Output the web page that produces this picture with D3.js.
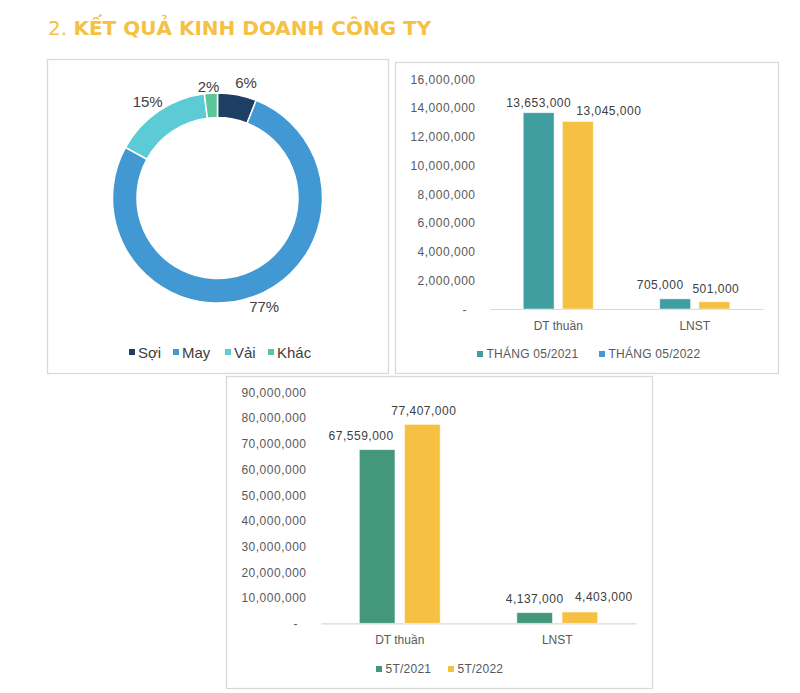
<!DOCTYPE html>
<html>
<head>
<meta charset="utf-8">
<script src="https://cdn.jsdelivr.net/npm/d3@7/dist/d3.min.js"></script>
<style>
  html, body { margin: 0; padding: 0; background: #ffffff; }
  svg { display: block; }
</style>
</head>
<body>
<svg id="chart" width="800" height="693"></svg>
<script>
// ---------- DATA ----------
const titleNumber = "2. ";
const titleText = "KẾT QUẢ KINH DOANH CÔNG TY";

const pieCategories = ["Sợi", "May", "Vải", "Khác"];
const pieValues = [6, 77, 15, 2];

const bar1Categories = ["DT thuần", "LNST"];
const bar1Series = ["THÁNG 05/2021", "THÁNG 05/2022"];
const bar1Values2021 = [13653000, 705000];
const bar1Values2022 = [13045000, 501000];
const bar1Ticks = [0, 2000000, 4000000, 6000000, 8000000, 10000000, 12000000, 14000000, 16000000];

const bar2Categories = ["DT thuần", "LNST"];
const bar2Series = ["5T/2021", "5T/2022"];
const bar2Values2021 = [67559000, 4137000];
const bar2Values2022 = [77407000, 4403000];
const bar2Ticks = [0, 10000000, 20000000, 30000000, 40000000, 50000000, 60000000, 70000000, 80000000, 90000000];

// ---------- STYLE ----------
const pieColors = ["#1F3E64", "#4198D2", "#5CCBD5", "#59C797"];
const bar1Colors = ["#409DA0", "#F6C143"];
const bar1LegendColors = ["#409DA0", "#4198D2"];
const bar2Colors = ["#43977A", "#F6C143"];
const border = "#D9D9D9";
const textColor = "#404040";
const tickColor = "#595959";
const numFont = "'Liberation Sans', Arial, sans-serif";

const svg = d3.select("#chart");
const fmt = d3.format(",");

// ---------- TITLE ----------
const title = svg.append("text")
  .attr("x", 48).attr("y", 35)
  .attr("font-family", "'DejaVu Sans', Verdana, sans-serif")
  .attr("font-size", 20)
  .attr("fill", "#F5C142");
title.append("tspan").attr("font-weight", "normal").text(titleNumber);
title.append("tspan").attr("font-weight", "bold").text(titleText);

// ---------- PANELS ----------
const panels = [
  { x: 47, y: 59, w: 341, h: 314 },
  { x: 395, y: 62, w: 383, h: 311 },
  { x: 226, y: 376, w: 426, h: 312 }
];
svg.selectAll("rect.panel").data(panels).enter().append("rect")
  .attr("class", "panel")
  .attr("x", d => d.x + 0.5).attr("y", d => d.y + 0.5)
  .attr("width", d => d.w).attr("height", d => d.h)
  .attr("fill", "#fff").attr("stroke", border).attr("stroke-width", 1.3);

// ---------- DONUT ----------
(function () {
  const cx = 217.5, cy = 198, R = 105, r = 80.5;
  const g = svg.append("g").attr("transform", `translate(${cx},${cy})`);
  const pie = d3.pie().sort(null).value(d => d)(pieValues);
  const arc = d3.arc().innerRadius(r).outerRadius(R);
  g.selectAll("path").data(pie).enter().append("path")
    .attr("d", arc)
    .attr("fill", (d, i) => pieColors[i])
    .attr("stroke", "#fff").attr("stroke-width", 1.5);

  const nudges = [[5, 0], [4, -1], [1, 0], [-1, 5]];
  g.selectAll("text.lbl").data(pie).enter().append("text")
    .attr("class", "lbl")
    .attr("font-family", numFont).attr("font-size", 15)
    .attr("fill", textColor).attr("text-anchor", "middle")
    .attr("x", (d, i) => {
      const a = (d.startAngle + d.endAngle) / 2;
      return Math.sin(a) * (R + 6) + Math.sin(a) * 15 + nudges[i][0];
    })
    .attr("y", (d, i) => {
      const a = (d.startAngle + d.endAngle) / 2;
      return -Math.cos(a) * (R + 6) - Math.cos(a) * 6 + 5.3 + nudges[i][1];
    })
    .text(d => d.data + "%");

  // legend
  const legX = [129, 173, 225, 268];
  const lg = svg.append("g");
  pieCategories.forEach((c, i) => {
    lg.append("rect").attr("x", legX[i]).attr("y", 349).attr("width", 6).attr("height", 6)
      .attr("fill", pieColors[i]);
    lg.append("text").attr("x", legX[i] + 9).attr("y", 357.5)
      .attr("font-family", numFont).attr("font-size", 15).attr("fill", textColor)
      .text(c);
  });
})();

// ---------- BAR CHART HELPER ----------
function barChart(opt) {
  const g = svg.append("g");
  const x = d3.scaleBand().domain(opt.categories).range([opt.x0, opt.x1]);
  const y = d3.scaleLinear().domain([0, opt.ticks[opt.ticks.length - 1]]).range([opt.yBase, opt.yTop]);
  const bw = x.bandwidth() * 0.226, gap = x.bandwidth() * 0.061;

  // y tick labels (no axis line, no gridlines)
  const yAxis = d3.axisLeft(y).tickValues(opt.ticks).tickSize(0).tickPadding(0)
    .tickFormat(d => d === 0 ? "-" : fmt(d));
  const ya = g.append("g").attr("transform", `translate(${opt.tickX},0)`).call(yAxis);
  ya.select(".domain").remove();
  ya.selectAll("text")
    .attr("font-family", numFont).attr("font-size", 12)
    .attr("letter-spacing", 0.5)
    .attr("fill", tickColor).attr("dy", "0.35em").attr("dx", (d) => d === 0 ? -8 : 0.5);

  // x axis line + category labels
  const xAxis = d3.axisBottom(x).tickSize(0).tickPadding(0);
  const xa = g.append("g").attr("transform", `translate(0,${opt.yBase})`).call(xAxis);
  xa.select(".domain").attr("stroke", border).attr("stroke-width", 1.2);
  xa.selectAll("text")
    .attr("font-family", numFont).attr("font-size", 12)
    .attr("fill", tickColor).attr("y", opt.catDy).attr("dy", 0);

  const series = [opt.values1, opt.values2];
  series.forEach((vals, s) => {
    opt.categories.forEach((c, i) => {
      const center = x(c) + x.bandwidth() / 2;
      const bx = s === 0 ? center - gap / 2 - bw : center + gap / 2;
      g.append("rect")
        .attr("x", bx).attr("y", y(vals[i]))
        .attr("width", bw).attr("height", opt.yBase - y(vals[i]))
        .attr("fill", opt.colors[s])
        .attr("stroke", "#ffffff").attr("stroke-opacity", 0.6).attr("stroke-width", 0.8);
      const nd = opt.nudges[s][i];
      g.append("text")
        .attr("x", bx + bw / 2 + nd[0]).attr("y", y(vals[i]) - nd[1])
        .attr("text-anchor", "middle")
        .attr("font-family", numFont).attr("font-size", 12)
        .attr("letter-spacing", 0.5)
        .attr("fill", textColor)
        .text(fmt(vals[i]));
    });
  });

  // legend
  opt.series.forEach((sname, s) => {
    g.append("rect").attr("x", opt.legX[s]).attr("y", opt.legY - 3).attr("width", 6).attr("height", 6)
      .attr("fill", opt.legendColors[s]);
    g.append("text").attr("x", opt.legX[s] + 9.5).attr("y", opt.legY + 4.2)
      .attr("font-family", numFont).attr("font-size", 12)
      .attr("letter-spacing", 0.25)
      .attr("fill", tickColor).text(sname);
  });
}

barChart({
  categories: bar1Categories, series: bar1Series,
  values1: bar1Values2021, values2: bar1Values2022, ticks: bar1Ticks,
  x0: 490, x1: 763, yBase: 309, yTop: 79, tickX: 475, catDy: 21,
  colors: bar1Colors, legendColors: bar1LegendColors,
  nudges: [[[0, 6], [-15, 9.7]], [[31, 6.7], [1.5, 9]]],
  legX: [477, 599], legY: 354
});

barChart({
  categories: bar2Categories, series: bar2Series,
  values1: bar2Values2021, values2: bar2Values2022, ticks: bar2Ticks,
  x0: 321, x1: 636, yBase: 623.3, yTop: 392, tickX: 306, catDy: 21,
  colors: bar2Colors, legendColors: bar2Colors,
  nudges: [[[-16, 9.4], [0, 9.7]], [[1.5, 9.4], [24, 10.7]]],
  legX: [376, 448], legY: 669
});
</script>
</body>
</html>
